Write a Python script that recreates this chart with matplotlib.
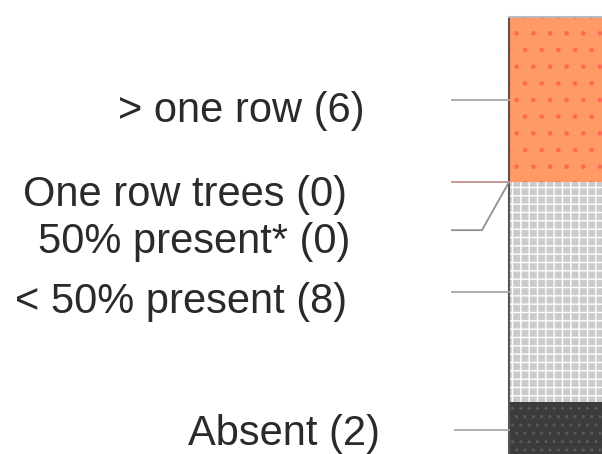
import matplotlib.pyplot as plt

plt.rcParams['font.family'] = ['Liberation Sans', 'DejaVu Sans']

# stacked categories, bottom to top
categories = ["Absent", "< 50% present", "50% present*", "One row trees", "> one row"]
counts = [2, 8, 0, 0, 6]
colors = ["#3c3c3c", "#cbcbcb", "#cbcbcb", "#cbcbcb", "#ff9a66"]
hatches = ["..", "++", "++", "++", "."]
hatch_colors = ["#5a5a5a", "white", "white", "white", "#ff6a55"]

fig = plt.figure(figsize=(6.02, 4.54), dpi=100)
ax = fig.add_axes([0, 0, 1, 1])
ax.set_xlim(0, 602)
ax.set_ylim(0.11, 16.62)
ax.axis("off")

bar_x = 509
bottom = 0
mids = []
for c, col, h, hc in zip(counts, colors, hatches, hatch_colors):
    ax.bar(bar_x, c, bottom=bottom, width=140, align="edge",
           color=col, hatch=h, edgecolor=hc, linewidth=0)
    mids.append(bottom + c / 2)
    bottom += c
ax.plot([bar_x, bar_x], [0, bottom], color="#555555", lw=1.5)
ax.plot([bar_x, 602], [bottom, bottom], color="#bbbbbb", lw=1.5)

# labels and leader lines
label_texts = [f"{n} ({c})" for n, c in zip(categories, counts)]
boundary = counts[0] + counts[1]
label_y = [mids[0] - 0.16, mids[1] - 0.36, boundary - 2.18, boundary - 0.47, mids[4] - 0.42]
label_x = [380, 347, 350, 347, 365]
line_y = [mids[0], mids[1], boundary - 1.75, boundary, mids[4]]
line_start = [455, 452, 452, 452, 452]
line_col = ["#a8a8a8", "#a8a8a8", "#a8a8a8", "#c09090", "#a8a8a8"]

for t, lx, ly, yy, xs, lc in zip(label_texts, label_x, label_y, line_y,
                                 line_start, line_col):
    ax.text(lx, ly, t, ha="right", va="center", fontsize=30, color="#2a2a2a")
    if yy == boundary - 1.75:
        ax.plot([xs, 482, bar_x], [yy, yy, boundary], color="#909090", lw=1.3)
    else:
        ax.plot([xs, bar_x], [yy, yy], color=lc, lw=1.3)

fig.savefig("out.png", dpi=100)
